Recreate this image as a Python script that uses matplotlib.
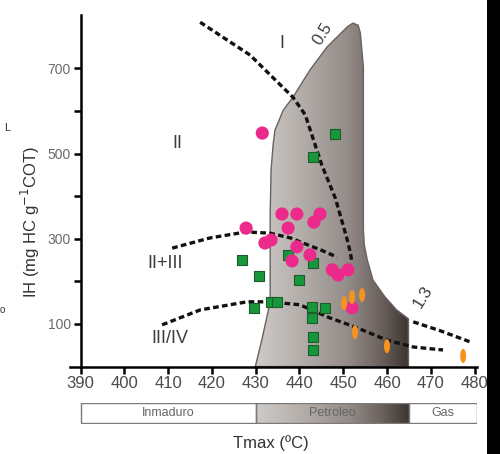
import numpy as np
import matplotlib
matplotlib.use('Agg')
import matplotlib.pyplot as plt
from matplotlib.colors import LinearSegmentedColormap
from matplotlib.patches import Polygon, Rectangle

plt.rcParams['font.family'] = ['Liberation Sans', 'DejaVu Sans']

# puntos de las muestras (Tmax, IH)
pink_x = [431.5, 427.8, 432.1, 433.5, 436.0, 439.4, 437.4, 439.4, 438.3,
          442.4, 443.3, 444.7, 447.5, 448.8, 451.1, 452.0]
pink_y = [548, 325, 290, 297, 358, 358, 325, 281, 248,
          262, 339, 358, 227, 215, 227, 138]
green_x = [448.1, 443.1, 426.9, 430.8, 429.6, 433.5, 434.9, 437.4, 439.9,
           443.1, 442.9, 445.8, 442.9, 443.1, 443.1]
green_y = [546, 492, 250, 212, 137, 152, 152, 262, 203,
           243, 140, 137, 114, 70, 39]
orange_x = [450.2, 452.0, 454.3, 452.7, 460.0, 477.4]
orange_y = [149, 163, 168, 81, 48, 25]

# ventana de petroleo (contorno)
window_x = [429.9, 431.4, 433.3, 433.3, 433.3, 433.5, 434.0, 434.4, 436.3,
            438.5, 442.4, 446.3, 450.9, 452.2, 453.4, 453.9, 454.6, 454.6,
            454.8, 455.5, 456.8, 459.5, 462.2, 464.9, 464.9]
window_y = [0, 63, 152, 297, 356, 461, 524, 555, 602,
            632, 696, 750, 797, 806, 801, 783, 703, 322,
            286, 250, 203, 164, 133, 112, 0]

# curvas de tipo de kerogeno
line_a_x = [417.3, 428.7, 438.5, 441.3, 445.1, 448.2, 450.8, 451.6, 452.0]
line_a_y = [808, 731, 632, 591, 473, 395, 302, 269, 243]
line_b_x = [410.9, 419.6, 427.8, 433.3, 437.9, 441.3, 444.8, 448.6]
line_b_y = [278, 302, 316, 313, 302, 288, 274, 257]
line_c_x = [408.6, 417.3, 428.0, 433.3, 440.1, 447.0, 452.7, 460.0, 466.0, 472.8]
line_c_y = [98, 133, 152, 152, 145, 114, 93, 62, 46, 39]
line_d_x = [466.0, 472.2, 479.0]
line_d_y = [105, 84, 58]

stages = ['Inmaduro', 'Petroleo', 'Gas']
stage_edges = [390, 430, 465, 480.5]

gray_cmap = LinearSegmentedColormap.from_list(
    'ventana', [(0.0, '#cfcbc8'), (0.3, '#b4aeaa'), (0.6, '#948c88'),
                (0.82, '#6b625e'), (1.0, '#3b332f')])

fig = plt.figure(figsize=(5.0, 4.54), dpi=100)
ax = fig.add_axes([0.14, 1 - 366.6 / 454, 0.8134, 351.6 / 454])

# relleno con degradado
grad = np.linspace(0, 1, 256).reshape(1, -1)
poly = Polygon(np.column_stack([window_x, window_y]), closed=True,
               facecolor='none', edgecolor='#67625f', lw=1.0, zorder=2)
ax.add_patch(poly)
im = ax.imshow(grad, cmap=gray_cmap, aspect='auto', extent=(429.9, 464.9, 0, 825),
               zorder=1, interpolation='bilinear')
im.set_clip_path(poly)

dash_kw = dict(color='#111111', lw=2.4, dashes=(1.7, 1.0), zorder=3)
for lx, ly in [(line_a_x, line_a_y), (line_b_x, line_b_y),
               (line_c_x, line_c_y), (line_d_x, line_d_y)]:
    ax.plot(lx, ly, **dash_kw)

t = np.linspace(0, 2 * np.pi, 40)
ellipse = np.column_stack([0.42 * np.cos(t), np.sin(t)])

ax.scatter(green_x, green_y, marker='s', s=52, c='#17973b', edgecolors='#1f5a2b',
           linewidths=0.8, zorder=4)
ax.scatter(pink_x, pink_y, marker='o', s=90, c='#ec2a8c', edgecolors='none', zorder=5)
ax.scatter(orange_x, orange_y, marker=ellipse, s=105, c='#f6921e', edgecolors='none',
           zorder=5)

# etiquetas
lab_kw = dict(color='#3c3c3c', fontsize=13, ha='center', va='center', zorder=6)
ax.text(412.0, 524, 'II', **lab_kw)
ax.text(409.3, 243, 'II+III', **lab_kw)
ax.text(410.4, 67, 'III/IV', **lab_kw)
ax.text(436.0, 759, 'I', **lab_kw)
ax.text(445.3, 780, '0.5', rotation=58, color='#3c3c3c', fontsize=12,
        ha='center', va='center', zorder=6)
ax.text(468.3, 163, '1.3', rotation=58, color='#3c3c3c', fontsize=12,
        ha='center', va='center', zorder=6)

ax.set_xlim(387.55, 480.5)
ax.set_ylim(0, 825)
ax.spines['left'].set_position(('data', 390))
ax.spines['top'].set_visible(False)
ax.spines['right'].set_visible(False)
for s in ['left', 'bottom']:
    ax.spines[s].set_linewidth(1.8)
ax.set_xticks(np.arange(390, 481, 10))
ax.set_yticks(np.arange(100, 701, 100))
ax.set_yticklabels(['100', '', '300', '', '500', '', '700'])
ax.tick_params(axis='both', direction='out', length=5, width=1.8, color='black')
ax.tick_params(axis='x', labelsize=12, labelcolor='#4a4a4a', pad=2)
ax.tick_params(axis='y', labelsize=10, labelcolor='#6a6a6a', pad=2)

fig.text(30 / 500, 1 - 222 / 454, 'IH (mg HC g$^{-1}$COT)', rotation=90,
         fontsize=12, color='#333333', ha='center', va='center')
fig.text(271 / 500, 1 - 443 / 454, 'Tmax (ºC)', fontsize=12, color='#333333',
         ha='center', va='center')

# barra de madurez
bar = fig.add_axes([0.14, 1 - 423.5 / 454, 0.8134, 20.5 / 454])
bar.set_xlim(387.55, 480.5)
bar.set_ylim(0, 1)
bar.axis('off')
for i, name in enumerate(stages):
    x0, x1 = stage_edges[i], stage_edges[i + 1]
    rect = Rectangle((x0, 0.02), x1 - x0, 0.96, facecolor='white',
                     edgecolor='#7a7a7a', lw=1.0, zorder=2)
    bar.add_patch(rect)
    if name == 'Petroleo':
        bar.imshow(grad, cmap=gray_cmap, aspect='auto', extent=(x0, x1, 0, 1),
                   zorder=1.5, interpolation='bilinear')
        rect.set_facecolor('none')
    bar.text((x0 + x1) / 2, 0.5, name, fontsize=9, color='#666666',
             ha='center', va='center', zorder=3)

# restos del recorte original
fig.patches.append(Rectangle((487 / 500, 0), 13 / 500, 1, transform=fig.transFigure,
                             facecolor='black', edgecolor='none'))
fig.text(4 / 500, 1 - 128 / 454, 'L', fontsize=8, color='#333333', ha='left', va='center')
fig.text(0 / 500, 1 - 310 / 454, 'o', fontsize=7, color='#333333', ha='left', va='center')

fig.savefig('out.png', dpi=100)
